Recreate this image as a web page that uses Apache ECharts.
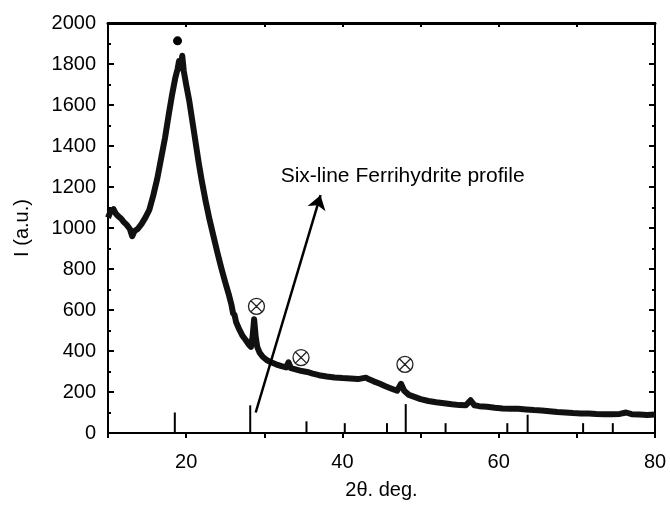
<!DOCTYPE html>
<html>
<head>
<meta charset="utf-8">
<script src="https://cdn.jsdelivr.net/npm/echarts@6/dist/echarts.min.js"></script>
<style>
  html, body { margin: 0; padding: 0; background: #fff; }
  #chart { width: 670px; height: 505px; }
</style>
</head>
<body>
<div id="chart"></div>
<script>
// XRD profile (2theta, intensity)
const profile = [
  [10.0,1050],[10.3,1078],[10.7,1092],[11.0,1070],[11.3,1058],[11.7,1045],[12.0,1030],[12.4,1015],
  [12.8,995],[13.1,960],[13.4,985],[13.8,995],[14.3,1020],[14.8,1052],[15.3,1090],[15.8,1160],
  [16.3,1240],[16.8,1340],[17.3,1440],[17.8,1560],[18.2,1650],[18.6,1730],[18.9,1775],[19.1,1815],
  [19.3,1780],[19.5,1840],[19.7,1765],[20.0,1700],[20.4,1620],[20.8,1520],[21.2,1420],[21.6,1320],
  [22.0,1230],[22.5,1130],[23.0,1040],[23.5,960],[24.0,880],[24.5,805],[25.0,735],[25.5,670],
  [25.8,625],[26.0,585],[26.2,575],[26.4,540],[26.8,505],[27.2,475],[27.6,455],[28.0,432],
  [28.3,420],[28.5,470],[28.7,555],[28.9,470],[29.1,420],[29.4,392],[29.8,372],[30.3,356],
  [30.8,346],[31.5,335],[32.2,326],[32.8,320],[33.1,345],[33.4,316],[34.0,310],[34.8,302],
  [35.5,298],[36.2,290],[37.0,282],[38.0,276],[39.0,271],[40.0,268],[41.0,266],[42.0,263],
  [43.0,270],[43.4,262],[44.0,252],[44.8,240],[45.5,228],[46.3,216],[47.0,206],[47.5,240],
  [47.9,206],[48.5,186],[49.3,175],[50.0,165],[51.0,156],[52.0,150],[53.0,145],[54.0,140],
  [55.0,136],[55.8,135],[56.4,160],[56.9,135],[57.5,131],[58.5,128],[59.5,123],[60.5,120],
  [61.5,118],[62.5,118],[63.5,115],[64.5,112],[65.5,110],[66.5,106],[67.5,102],[68.5,100],
  [69.5,97],[70.5,95],[71.5,95],[72.5,93],[73.5,92],[74.5,92],[75.5,93],[76.3,100],
  [77.0,92],[78.0,90],[79.0,88],[80.0,90]
];

// reference pattern of six-line ferrihydrite (stick positions and heights)
const stickPos    = [18.55, 28.2, 35.4, 40.3, 45.7, 48.1, 53.2, 61.1, 63.7, 70.8, 74.6];
const stickHeight = [100,   135,  57,   48,   48,   141,  48,   48,   89,   48,   48];

const peakDot    = [[18.9, 1913]];
const crossMarks = [[29.0, 618], [34.7, 368], [48.0, 335]];
const arrowFrom  = [28.9, 100];
const arrowTo    = [37.2, 1160];
const noteText   = 'Six-line Ferrihydrite profile';
const notePos    = [32.1, 1252];

const xTickLabels = ['20', '40', '60', '80'];

const FONT = 'Liberation Sans';
const INK = '#000';

const chart = echarts.init(document.getElementById('chart'));

const stickData = stickPos.map((x, i) => [x, stickHeight[i]]);

const crossPath = 'path://M0,-10A10,10 0 1,1 0,10A10,10 0 1,1 0,-10Z M-7,-7L7,7 M7,-7L-7,7';

chart.setOption({
  animation: false,
  backgroundColor: '#fff',
  grid: { left: 108, right: 15, top: 23, bottom: 71 },
  xAxis: [{
    type: 'value',
    min: 10, max: 80, interval: 10,
    position: 'bottom',
    name: '2θ. deg.',
    nameLocation: 'middle',
    nameGap: 47,
    nameTextStyle: { fontFamily: FONT, fontSize: 20, color: INK },
    axisLine: { show: true, onZero: false, lineStyle: { color: INK, width: 2 } },
    axisTick: { show: true, inside: false, length: 5, lineStyle: { color: INK, width: 2 } },
    axisLabel: {
      margin: 19, fontFamily: FONT, fontSize: 20, color: INK,
      formatter: v => xTickLabels.indexOf(String(v)) >= 0 ? String(v) : ''
    },
    splitLine: { show: false }
  }, {
    type: 'value',
    min: 10, max: 80, interval: 10,
    position: 'top',
    axisLine: { show: true, onZero: false, lineStyle: { color: INK, width: 3 } },
    axisTick: { show: true, inside: true, length: 4, lineStyle: { color: INK, width: 2 } },
    axisLabel: { show: false },
    splitLine: { show: false }
  }],
  yAxis: [{
    type: 'value',
    min: 0, max: 2000, interval: 200,
    position: 'left',
    name: 'I (a.u.)',
    nameLocation: 'middle',
    nameGap: 76,
    nameTextStyle: { fontFamily: FONT, fontSize: 20, color: INK },
    axisLine: { show: true, onZero: false, lineStyle: { color: INK, width: 2 } },
    axisTick: { show: true, inside: true, length: 6, lineStyle: { color: INK, width: 2 } },
    minorTick: { show: true, splitNumber: 2, length: 3, lineStyle: { color: INK, width: 2 } },
    axisLabel: { margin: 12, fontFamily: FONT, fontSize: 20, color: INK, formatter: v => String(v) },
    splitLine: { show: false }
  }, {
    type: 'value',
    min: 0, max: 2000, interval: 200,
    position: 'right',
    axisLine: { show: true, onZero: false, lineStyle: { color: INK, width: 2 } },
    axisTick: { show: true, inside: true, length: 6, lineStyle: { color: INK, width: 2 } },
    minorTick: { show: true, splitNumber: 2, length: 3, lineStyle: { color: INK, width: 2 } },
    axisLabel: { show: false },
    splitLine: { show: false }
  }],
  series: [{
    name: 'sticks',
    type: 'custom',
    data: stickData,
    renderItem: (params, api) => {
      const p0 = api.coord([api.value(0), 0]);
      const p1 = api.coord([api.value(0), api.value(1)]);
      return {
        type: 'line',
        shape: { x1: p0[0], y1: p0[1], x2: p1[0], y2: p1[1] },
        style: { stroke: INK, lineWidth: 2 }
      };
    },
    z: 3
  }, {
    name: 'profile',
    type: 'line',
    data: profile,
    showSymbol: false,
    symbol: 'none',
    lineStyle: { color: '#111', width: 6, join: 'round' },
    z: 4,
    markLine: {
      silent: true,
      symbol: ['none', 'arrow'],
      symbolSize: 14,
      label: { show: false },
      lineStyle: { color: INK, width: 2.5, type: 'solid', opacity: 1 },
      data: [[{ coord: arrowFrom }, { coord: arrowTo }]]
    }
  }, {
    name: 'peak',
    type: 'scatter',
    data: peakDot,
    symbol: 'circle',
    symbolSize: 9,
    itemStyle: { color: INK, opacity: 1 },
    z: 5
  }, {
    name: 'impurity',
    type: 'scatter',
    data: crossMarks,
    symbol: crossPath,
    symbolSize: 16,
    itemStyle: { color: 'transparent', borderColor: '#222', borderWidth: 1.3, opacity: 1 },
    z: 5
  }, {
    name: 'note',
    type: 'scatter',
    data: [notePos],
    symbolSize: 0,
    label: {
      show: true,
      position: 'right',
      distance: 0,
      formatter: noteText,
      fontFamily: FONT,
      fontSize: 21,
      color: INK,
      opacity: 1
    },
    itemStyle: { opacity: 1 },
    z: 5
  }]
});
</script>
</body>
</html>
